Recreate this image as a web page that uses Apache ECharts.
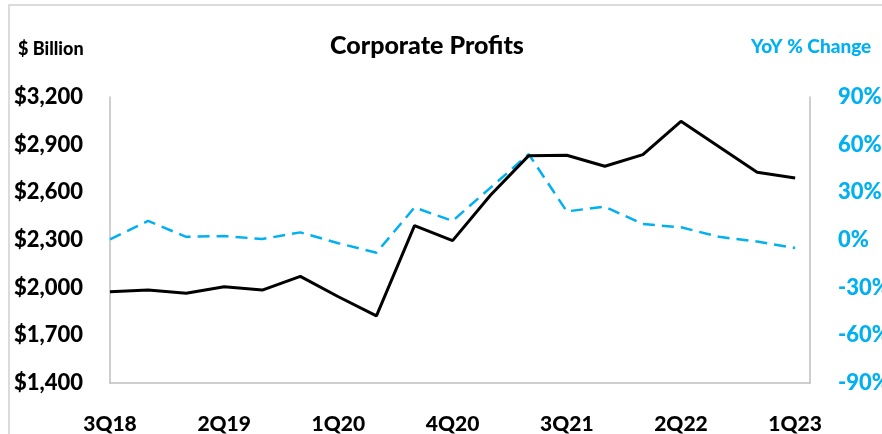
<!DOCTYPE html>
<html>
<head>
<meta charset="utf-8">
<script src="https://cdn.jsdelivr.net/npm/echarts@6/dist/echarts.min.js"></script>
<style>
  html, body { margin: 0; padding: 0; background: #fff; }
  #chart { width: 882px; height: 434px; }
</style>
</head>
<body>
<div id="chart"></div>
<script>
// quarters on the x axis
const quarters = ['3Q18', '4Q18', '1Q19', '2Q19', '3Q19', '4Q19', '1Q20', '2Q20', '3Q20', '4Q20',
  '1Q21', '2Q21', '3Q21', '4Q21', '1Q22', '2Q22', '3Q22', '4Q22', '1Q23']
// corporate profits, $ billion (left axis)
const profits = [1975, 1985, 1965, 2006, 1985, 2071, 1943, 1822, 2390, 2296,
  2583, 2831, 2833, 2764, 2837, 3047, 2887, 2726, 2690]
// year over year change, % (right axis)
const yoy = [0.4, 12, 2, 2.5, 0.6, 4.8, -2, -8, 20.5, 12,
  33, 54, 18, 21, 10, 8, 2, -1, -5]

const FONT = 'Lato'
const BLUE = '#00b0f0'
const GRAY = '#bfbfbf'

const chart = echarts.init(document.getElementById('chart'))

chart.setOption({
  animation: false,
  textStyle: { fontFamily: FONT },
  title: {
    text: 'Corporate Profits',
    left: 422,
    top: 28,
    textAlign: 'center',
    textStyle: { fontFamily: FONT, fontSize: 25, fontWeight: 900, color: '#000' }
  },
  graphic: [
    {
      type: 'rect',
      shape: { x: 9, y: 5, width: 900, height: 500 },
      style: { fill: 'none', stroke: '#d0d0d0', lineWidth: 1.5 },
      silent: true
    },
    {
      type: 'text',
      left: 18,
      top: 40,
      style: { text: '$ Billion', fontFamily: FONT, fontSize: 18, fontWeight: 900, fill: '#000' }
    },
    {
      type: 'text',
      left: 751,
      top: 37,
      style: { text: 'YoY % Change', fontFamily: FONT, fontSize: 19, fontWeight: 900, fill: BLUE }
    }
  ],
  // keep the plot box fixed even though the right labels run off the edge
  grid: { left: 110, right: 72, top: 97, bottom: 51, outerBoundsMode: 'none', containLabel: false },
  xAxis: {
    type: 'value',
    min: 0,
    max: 18.39,
    interval: 3,
    axisLine: { show: true, onZero: false, lineStyle: { color: GRAY, width: 1.5 } },
    axisTick: { show: false },
    splitLine: { show: false },
    axisLabel: {
      margin: 31,
      showMaxLabel: false,
      fontFamily: FONT,
      fontSize: 21,
      fontWeight: 900,
      color: '#000',
      formatter: v => (Number.isInteger(v) && quarters[v]) ? quarters[v] : ''
    }
  },
  yAxis: [
    {
      type: 'value',
      min: 1400,
      max: 3200,
      interval: 300,
      axisLine: { show: true, onZero: false, lineStyle: { color: GRAY, width: 1.5 } },
      axisTick: { show: false },
      splitLine: { show: false },
      axisLabel: {
        margin: 27,
        fontFamily: FONT,
        fontSize: 22,
        fontWeight: 900,
        color: '#000',
        formatter: v => '$' + v.toLocaleString('en-US')
      }
    },
    {
      type: 'value',
      min: -90,
      max: 90,
      interval: 30,
      axisLine: { show: true, onZero: false, lineStyle: { color: GRAY, width: 1.5 } },
      axisTick: { show: false },
      splitLine: { show: false },
      axisLabel: {
        margin: 28,
        fontFamily: FONT,
        fontSize: 22,
        fontWeight: 900,
        color: BLUE,
        formatter: v => v + '%'
      }
    }
  ],
  series: [
    {
      name: 'YoY % Change',
      type: 'line',
      yAxisIndex: 1,
      data: yoy.map((v, i) => [i, v]),
      symbol: 'none',
      lineStyle: { color: BLUE, width: 2.5, type: [12, 7] },
      z: 2
    },
    {
      name: 'Corporate Profits',
      type: 'line',
      yAxisIndex: 0,
      data: profits.map((v, i) => [i, v]),
      symbol: 'none',
      lineStyle: { color: '#000', width: 3 },
      z: 3
    }
  ]
})
</script>
</body>
</html>
